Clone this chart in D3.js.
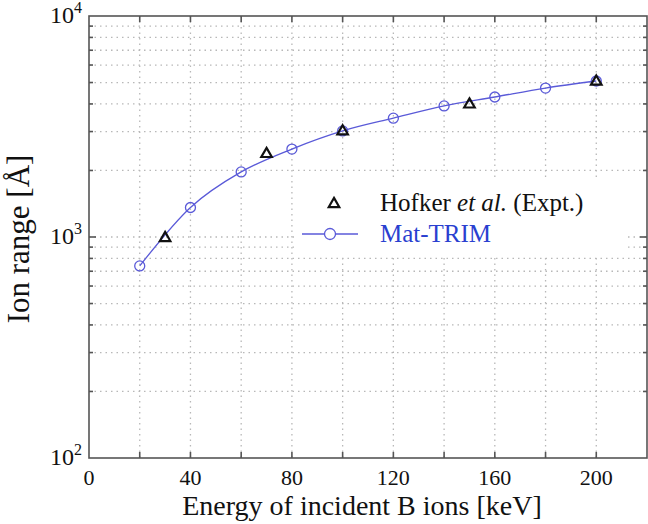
<!DOCTYPE html>
<html><head><meta charset="utf-8">
<script src="https://cdn.jsdelivr.net/npm/d3@7"></script>
<style>body{margin:0;background:#fff;} svg{display:block;}</style>
</head><body>
<svg id="c" width="648" height="524"></svg>
<script>
const trimEnergy = [20, 40, 60, 80, 100, 120, 140, 160, 180, 200];
const trimRange  = [740, 1360, 1970, 2500, 3020, 3450, 3920, 4300, 4720, 5080];
const exptEnergy = [30, 70, 100, 150, 200];
const exptRange  = [1000, 2400, 3040, 4020, 5100];
const xTickLabels = [0, 40, 80, 120, 160, 200];
const xTicks = [0, 20, 40, 60, 80, 100, 120, 140, 160, 180, 200, 220];
const yDecades = [2, 3, 4];

const svg = d3.select("#c");
const L = 89, T = 16, R = 647, B = 458;
const x = d3.scaleLinear().domain([0, 220]).range([L, R]);
const y = d3.scaleLog().domain([100, 10000]).range([B, T]);
const font = "'Liberation Serif', 'Times New Roman', serif";

// grid
const minorY = [];
for (let d = 100; d < 10000; d *= 10) for (let k = 1; k <= 9; k++) if (!(k===1 && d===100)) minorY.push(k*d);
const g = svg.append("g");
g.selectAll("line.gy").data(minorY).join("line")
  .attr("x1", L).attr("x2", R).attr("y1", d=>y(d)).attr("y2", d=>y(d))
  .attr("stroke", "#b8b8b8").attr("stroke-width", 1.3).attr("stroke-dasharray", "1.5,4");
g.selectAll("line.gx").data(xTicks.filter(v=>v>0 && v<220)).join("line")
  .attr("x1", d=>x(d)).attr("x2", d=>x(d)).attr("y1", T).attr("y2", B)
  .attr("stroke", "#b8b8b8").attr("stroke-width", 1.3).attr("stroke-dasharray", "1.5,4");

// legend background
svg.append("rect").attr("x", 296).attr("y", 178).attr("width", 330).attr("height", 76).attr("fill", "#fff");

// frame
const ax = svg.append("g").attr("stroke", "#555").attr("stroke-width", 1.6);
ax.append("rect").attr("x", L).attr("y", T).attr("width", R-L).attr("height", B-T).attr("fill", "none");
xTicks.filter(v=>v>0 && v<220).forEach(v => {
  ax.append("line").attr("x1", x(v)).attr("x2", x(v)).attr("y1", B).attr("y2", B-6);
  ax.append("line").attr("x1", x(v)).attr("x2", x(v)).attr("y1", T).attr("y2", T+6);
});
minorY.forEach(v => {
  const len = (v === 1000) ? 7 : 4;
  ax.append("line").attr("x1", L).attr("x2", L+len).attr("y1", y(v)).attr("y2", y(v));
  ax.append("line").attr("x1", R).attr("x2", R-len).attr("y1", y(v)).attr("y2", y(v));
});

// x tick labels
svg.selectAll("text.xl").data(xTickLabels).join("text")
  .attr("x", d=>x(d)).attr("y", 485).attr("text-anchor", "middle")
  .attr("font-family", font).attr("font-size", 22).attr("fill", "#111").text(d=>d);
// y tick labels
yDecades.forEach(e => {
  const t = svg.append("text").attr("x", 82).attr("y", y(Math.pow(10,e)) + 7).attr("text-anchor", "end")
    .attr("font-family", font).attr("font-size", 24).attr("fill", "#111");
  t.append("tspan").text("10");
  t.append("tspan").attr("dy", -10).attr("font-size", 16).text(e);
});

// axis titles
svg.append("text").attr("x", 362).attr("y", 515).attr("text-anchor", "middle")
  .attr("font-family", font).attr("font-size", 28).attr("fill", "#111").text("Energy of incident B ions [keV]");
svg.append("text").attr("transform", `translate(29,239) rotate(-90)`).attr("text-anchor", "middle")
  .attr("font-family", font).attr("font-size", 31).attr("fill", "#111").text("Ion range [Å]");

// series
const blue = "#5a5ad8";
const pts = trimEnergy.map((e,i)=>[e, trimRange[i]]);
svg.append("path").datum(pts)
  .attr("d", d3.line().x(d=>x(d[0])).y(d=>y(d[1])).curve(d3.curveMonotoneX))
  .attr("fill", "none").attr("stroke", blue).attr("stroke-width", 1.3);
svg.selectAll("circle.t").data(pts).join("circle")
  .attr("cx", d=>x(d[0])).attr("cy", d=>y(d[1])).attr("r", 5)
  .attr("fill", "none").attr("stroke", blue).attr("stroke-width", 1.3);

const tri = d3.symbol().type(d3.symbolTriangle).size(48);
svg.selectAll("path.e").data(exptEnergy.map((e,i)=>[e, exptRange[i]])).join("path")
  .attr("d", tri).attr("transform", d=>`translate(${x(d[0])},${y(d[1])+1})`)
  .attr("fill", "none").attr("stroke", "#111").attr("stroke-width", 2.2);

// legend
svg.append("path").attr("d", tri).attr("transform", "translate(334,204)")
  .attr("fill", "none").attr("stroke", "#111").attr("stroke-width", 2.2);
const lt = svg.append("text").attr("x", 380).attr("y", 211).attr("font-family", font).attr("font-size", 25).attr("fill", "#111");
lt.append("tspan").text("Hofker ");
lt.append("tspan").attr("font-style", "italic").text("et al.");
lt.append("tspan").text(" (Expt.)");
svg.append("line").attr("x1", 302).attr("x2", 358).attr("y1", 234).attr("y2", 234).attr("stroke", blue).attr("stroke-width", 1.3);
svg.append("circle").attr("cx", 330).attr("cy", 234).attr("r", 5.5).attr("fill", "#fff").attr("stroke", blue).attr("stroke-width", 1.3);
svg.append("text").attr("x", 380).attr("y", 242).attr("font-family", font).attr("font-size", 25).attr("fill", "#2a3fd0").text("Mat-TRIM");
</script>
</body></html>
